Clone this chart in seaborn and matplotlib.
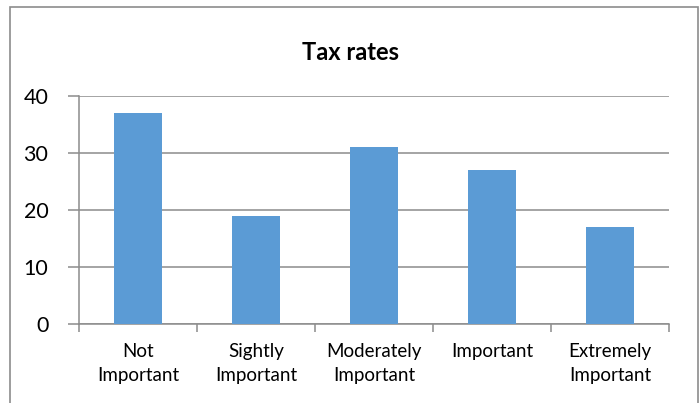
import numpy as np
import pandas as pd
import matplotlib
matplotlib.use("Agg")
import matplotlib.pyplot as plt
from matplotlib.patches import Rectangle
import seaborn as sns

categories = ["Not\nImportant", "Sightly\nImportant", "Moderately\nImportant",
              "Important", "Extremely\nImportant"]
values = [37, 19, 31, 27, 17]
y_ticks = [0, 10, 20, 30, 40]
title = "Tax rates"

sns.set_theme(style="white")
plt.rcParams["font.family"] = ["Lato", "DejaVu Sans"]

GRID = "#8c8c8c"
BAR = "#5b9bd5"

fig = plt.figure(figsize=(6.99, 4.03), dpi=100)
fig.patch.set_facecolor("white")
ax = fig.add_axes([79 / 699, 1 - 324 / 403, 590 / 699, 228 / 403])

df = pd.DataFrame({"category": categories, "value": values})
sns.barplot(data=df, x="category", y="value", color=BAR, width=0.4,
            saturation=1, linewidth=0, ax=ax, zorder=3)

ax.set_xlim(-0.5, len(categories) - 0.5)
ax.set_ylim(0, 40)
ax.set_xlabel("")
ax.set_ylabel("")

# y axis: gridlines with short outside ticks
ax.set_yticks(y_ticks)
ax.set_yticklabels([str(t) for t in y_ticks], fontsize=15.5)
ax.yaxis.grid(True, color=GRID, linewidth=1.1, zorder=0)
ax.tick_params(axis="y", which="major", left=True, length=8, width=1.1,
               color=GRID, pad=14, labelcolor="black")

# x axis: ticks between categories, labels centred on each bar
ax.set_xticks(np.arange(-0.5, len(categories)), labels=[])
ax.set_xticks(np.arange(len(categories)), labels=categories, minor=True)
ax.tick_params(axis="x", which="major", bottom=True, length=6, width=1.1,
               color=GRID)
ax.tick_params(axis="x", which="minor", bottom=False, length=0, pad=14,
               labelsize=13.5, labelcolor="black")
for lbl in ax.get_xticklabels(minor=True):
    lbl.set_linespacing(1.45)

for side in ["top", "right"]:
    ax.spines[side].set_visible(False)
for side in ["left", "bottom"]:
    ax.spines[side].set_color(GRID)
    ax.spines[side].set_linewidth(1.1)

fig.text(350 / 699, 1 - 52 / 403, title, ha="center", va="center",
         fontsize=17, fontweight="bold", color="black")

# chart frame
fig.patches.append(Rectangle((10 / 699, -0.05), 688 / 699, 1.05 - 7 / 403,
                             transform=fig.transFigure, fill=False,
                             edgecolor=GRID, linewidth=1.2))

fig.savefig("out.png", dpi=100)
